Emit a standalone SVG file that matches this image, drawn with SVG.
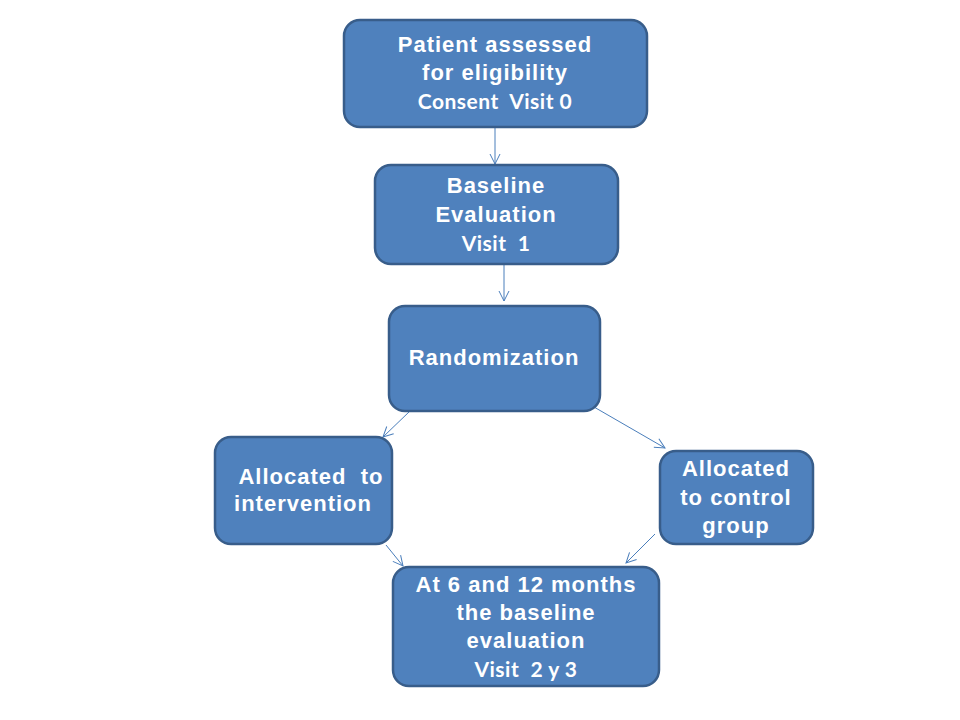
<svg xmlns="http://www.w3.org/2000/svg" width="960" height="720" viewBox="0 0 960 720">
<style>
.box{fill:#4F81BD;stroke:#385D8A;stroke-width:2.5}
.t{font-family:"Liberation Sans",Arial,sans-serif;font-weight:bold;font-size:22px;letter-spacing:1px;fill:#FFFFFF;text-anchor:middle}
.c{font-family:Lato,"Open Sans",sans-serif;font-weight:bold;font-size:21px;letter-spacing:0.5px;fill:#FFFFFF;text-anchor:middle}
.e{stroke:#4A7EBB;stroke-width:1;fill:none;marker-end:url(#arr)}
</style>
<defs>
<marker id="arr" viewBox="0 0 12 12" refX="11" refY="6" markerWidth="12" markerHeight="12" markerUnits="userSpaceOnUse" orient="auto">
<path d="M1,1 L11,6 L1,11" fill="none" stroke="#4A7EBB" stroke-width="1"/>
</marker>
</defs>
<rect width="960" height="720" fill="#FFFFFF"/>
<g id="connectors">
<line class="e" x1="495" y1="128" x2="495" y2="164"/>
<line class="e" x1="504" y1="265" x2="504" y2="301"/>
<line class="e" x1="410" y1="411" x2="383" y2="437"/>
<line class="e" x1="594" y1="407" x2="665" y2="448"/>
<line class="e" x1="386" y1="545" x2="403" y2="566"/>
<line class="e" x1="655" y1="534" x2="626" y2="563"/>
</g>
<g id="n1">
<rect class="box" x="344" y="20" width="303" height="107" rx="16"/>
<text class="t" x="495" y="52">Patient assessed</text>
<text class="t" x="495" y="80">for eligibility</text>
<text class="c" x="495" y="109">Consent&#160; Visit 0</text>
</g>
<g id="n2">
<rect class="box" x="375" y="165" width="243" height="99" rx="16"/>
<text class="t" x="496" y="193">Baseline</text>
<text class="t" x="496" y="222">Evaluation</text>
<text class="c" x="496" y="251">Visit&#160; 1</text>
</g>
<g id="n3">
<rect class="box" x="389" y="306" width="211" height="105" rx="16"/>
<text class="t" x="494" y="365">Randomization</text>
</g>
<g id="n4">
<rect class="box" x="215" y="437" width="177" height="107" rx="16"/>
<text class="t" x="311" y="484" letter-spacing="2">Allocated&#160; to</text>
<text class="t" x="303" y="511">intervention</text>
</g>
<g id="n5">
<rect class="box" x="660" y="451" width="153" height="93" rx="16"/>
<text class="t" x="736" y="476">Allocated</text>
<text class="t" x="736" y="505">to control</text>
<text class="t" x="736" y="533">group</text>
</g>
<g id="n6">
<rect class="box" x="393" y="567" width="266" height="119" rx="16"/>
<text class="t" x="526" y="592">At 6 and 12 months</text>
<text class="t" x="526" y="620">the baseline</text>
<text class="t" x="526" y="648">evaluation</text>
<text class="c" x="526" y="677">Visit&#160; 2 y 3</text>
</g>
</svg>
